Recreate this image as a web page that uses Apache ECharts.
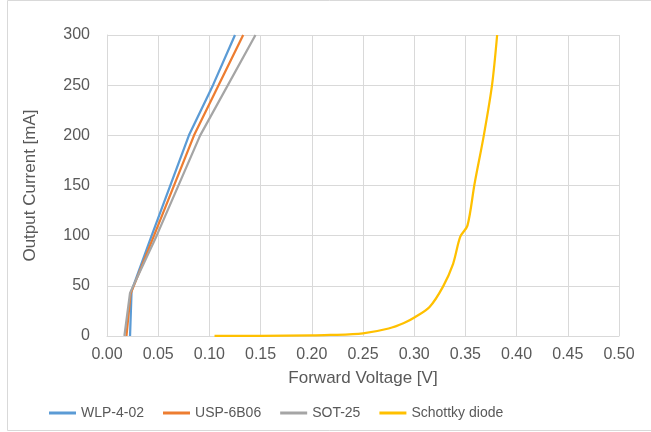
<!DOCTYPE html>
<html lang="en">
<head>
  <meta charset="UTF-8">
  <title>Forward Voltage vs Output Current</title>
  <style>
    body { margin: 0; background: #fff; }
    #chart { width: 651px; height: 432px; }
  </style>
</head>
<body>
<div id="chart"></div>
<script src="https://cdn.jsdelivr.net/npm/echarts@6/dist/echarts.min.js"></script>
<script>
  // values: [forward voltage V, output current mA]
  const seriesNames = ['WLP-4-02', 'USP-6B06', 'SOT-25', 'Schottky diode'];
  const wlp = [[0.0225, 0], [0.024, 45], [0.0436, 100], [0.08, 200], [0.1035, 250], [0.125, 300]];
  const usp = [[0.019, 0], [0.023, 42], [0.0459, 100], [0.085, 200], [0.133, 300]];
  const sot = [[0.017, 0], [0.0225, 43], [0.0485, 100], [0.091, 200], [0.145, 300]];
  const schottky = [
    [0.105, 0.1], [0.15, 0.2], [0.2, 0.7], [0.218, 1], [0.25, 2.7], [0.275, 7.5],
    [0.29, 13], [0.301, 19], [0.315, 29], [0.328, 49], [0.338, 72], [0.345, 99],
    [0.352, 110], [0.359, 152], [0.368, 200], [0.376, 250], [0.381, 300]
  ];
  const colors = ['#5B9BD5', '#ED7D31', '#A5A5A5', '#FFC000'];

  const chart = echarts.init(document.getElementById('chart'));
  const font = 'Liberation Sans, Arial, sans-serif';

  function line(name, data, color, smooth) {
    return {
      name: name,
      type: 'line',
      data: data,
      symbol: 'none',
      smooth: smooth,
      color: color,
      lineStyle: { width: 2.25, color: color },
      clip: true
    };
  }

  chart.setOption({
    animation: false,
    textStyle: { fontFamily: font },
    graphic: [{
      type: 'rect',
      silent: true,
      shape: { x: 7.5, y: 0.5, width: 700, height: 430 },
      style: { fill: 'none', stroke: '#d9d9d9', lineWidth: 1 }
    }],
    grid: { left: 107, right: 32, top: 35, bottom: 96 },
    legend: {
      bottom: 7,
      left: 44,
      icon: 'rect',
      itemWidth: 27,
      itemHeight: 3,
      itemGap: 19,
      textStyle: { color: '#595959', fontSize: 14, fontFamily: font },
      data: seriesNames
    },
    xAxis: {
      type: 'value',
      min: 0,
      max: 0.5,
      interval: 0.05,
      name: 'Forward Voltage [V]',
      nameLocation: 'middle',
      nameGap: 34,
      nameTextStyle: { color: '#595959', fontSize: 17, fontFamily: font },
      axisLine: { lineStyle: { color: '#d9d9d9' } },
      axisTick: { show: false },
      axisLabel: {
        color: '#595959', fontSize: 16, margin: 11,
        formatter: v => v.toFixed(2)
      },
      splitLine: { lineStyle: { color: '#d9d9d9' } }
    },
    yAxis: {
      type: 'value',
      min: 0,
      max: 300,
      interval: 50,
      name: 'Output Current [mA]',
      nameLocation: 'middle',
      nameGap: 68,
      nameTextStyle: { color: '#595959', fontSize: 17, fontFamily: font },
      axisLine: { show: true, lineStyle: { color: '#d9d9d9' } },
      axisTick: { show: false },
      axisLabel: { color: '#595959', fontSize: 16, margin: 17 },
      splitLine: { lineStyle: { color: '#d9d9d9' } }
    },
    series: [
      line(seriesNames[0], wlp, colors[0], false),
      line(seriesNames[1], usp, colors[1], false),
      line(seriesNames[2], sot, colors[2], false),
      line(seriesNames[3], schottky, colors[3], 0.3)
    ]
  });
</script>
</body>
</html>
